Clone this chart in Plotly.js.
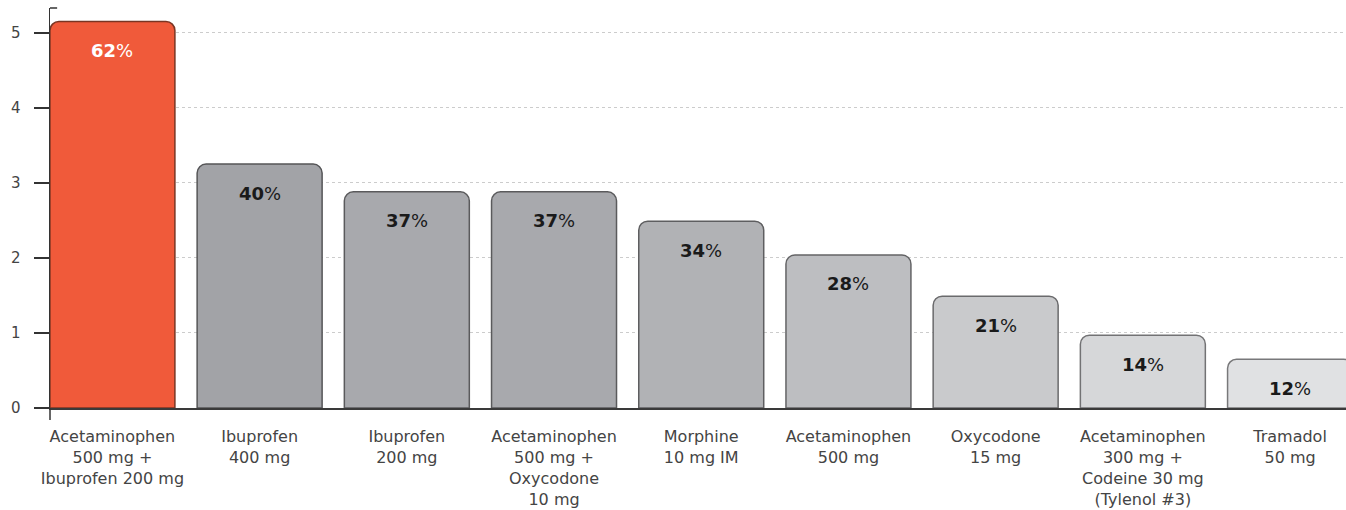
<!DOCTYPE html>
<html>
<head>
<meta charset="utf-8">
<script src="https://cdn.plot.ly/plotly-3.0.1.min.js"></script>
<style>html,body{margin:0;padding:0;background:#fff;}#chart{width:1346px;height:510px;}</style>
</head>
<body>
<div id="chart"></div>
<script>
const categories = [
  "Acetaminophen<br>500 mg +<br>Ibuprofen 200 mg",
  "Ibuprofen<br>400 mg",
  "Ibuprofen<br>200 mg",
  "Acetaminophen<br>500 mg +<br>Oxycodone<br>10 mg",
  "Morphine<br>10 mg IM",
  "Acetaminophen<br>500 mg",
  "Oxycodone<br>15 mg",
  "Acetaminophen<br>300 mg +<br>Codeine 30 mg<br>(Tylenol #3)",
  "Tramadol<br>50 mg"
];
const values = [5.15, 3.25, 2.88, 2.88, 2.49, 2.04, 1.49, 0.97, 0.65];
const percents = [62, 40, 37, 37, 34, 28, 21, 14, 12];
const yTicks = [0, 1, 2, 3, 4, 5];

const barColors = ["#f05a3a", "#a2a3a7", "#a8a9ad", "#a8a9ad", "#b1b2b5", "#bdbec1", "#c9cacc", "#d6d7d9", "#e0e1e3"];
const lineColors = ["#7a3523", "#555557", "#5a5a5c", "#5a5a5c", "#5e5e60", "#646466", "#6a6a6c", "#727274", "#78787a"];
const xIdx = categories.map((c, i) => i);

const trace = {
  type: "bar",
  x: xIdx,
  y: values,
  marker: {color: barColors, line: {color: lineColors, width: 1.5}, cornerradius: 9},
  hoverinfo: "none",
  cliponaxis: true
};

const annotations = percents.map((p, i) => ({
  x: i, y: values[i], xref: "x", yref: "y",
  text: "<b>" + p + "</b>%",
  showarrow: false, yanchor: "middle", yshift: -29,
  font: {family: "DejaVu Sans", size: 18, color: i === 0 ? "#ffffff" : "#1a1a1a"}
}));

const layout = {
  width: 1346, height: 510,
  margin: {l: 50, r: 0, t: 8, b: 102},
  paper_bgcolor: "#ffffff", plot_bgcolor: "#ffffff",
  bargap: 0.151,
  showlegend: false,
  xaxis: {
    range: [-0.424, 8.38],
    tickmode: "array", tickvals: xIdx, ticktext: categories,
    ticks: "", showgrid: false, zeroline: false,
    showline: true, linecolor: "#3a3a3a", linewidth: 2,
    tickfont: {family: "DejaVu Sans", size: 16, color: "#444444"},
    ticklabelstandoff: 13,
    fixedrange: true
  },
  yaxis: {
    range: [0, 5.33],
    tickmode: "array", tickvals: yTicks, ticktext: yTicks.map(String),
    ticks: "outside", ticklen: 15, tickwidth: 1.5, tickcolor: "#333333",
    showline: true, linecolor: "#333333", linewidth: 1.5,
    showgrid: true, gridcolor: "#cccccc", griddash: "dot", gridwidth: 1,
    zeroline: false,
    tickfont: {family: "DejaVu Sans", size: 15, color: "#444444"},
    ticklabelstandoff: 10,
    fixedrange: true
  },
  shapes: [
    {type: "line", xref: "paper", yref: "paper", x0: 0, x1: 0.0055, y0: 1, y1: 1, line: {color: "#333333", width: 1.5}},
    {type: "line", xref: "paper", yref: "paper", x0: 0, x1: 0, y0: 0, y1: -0.03, line: {color: "#333333", width: 1.5}}
  ],
  annotations: annotations
};

Plotly.newPlot("chart", [trace], layout, {displayModeBar: false, staticPlot: true});
</script>
</body>
</html>
